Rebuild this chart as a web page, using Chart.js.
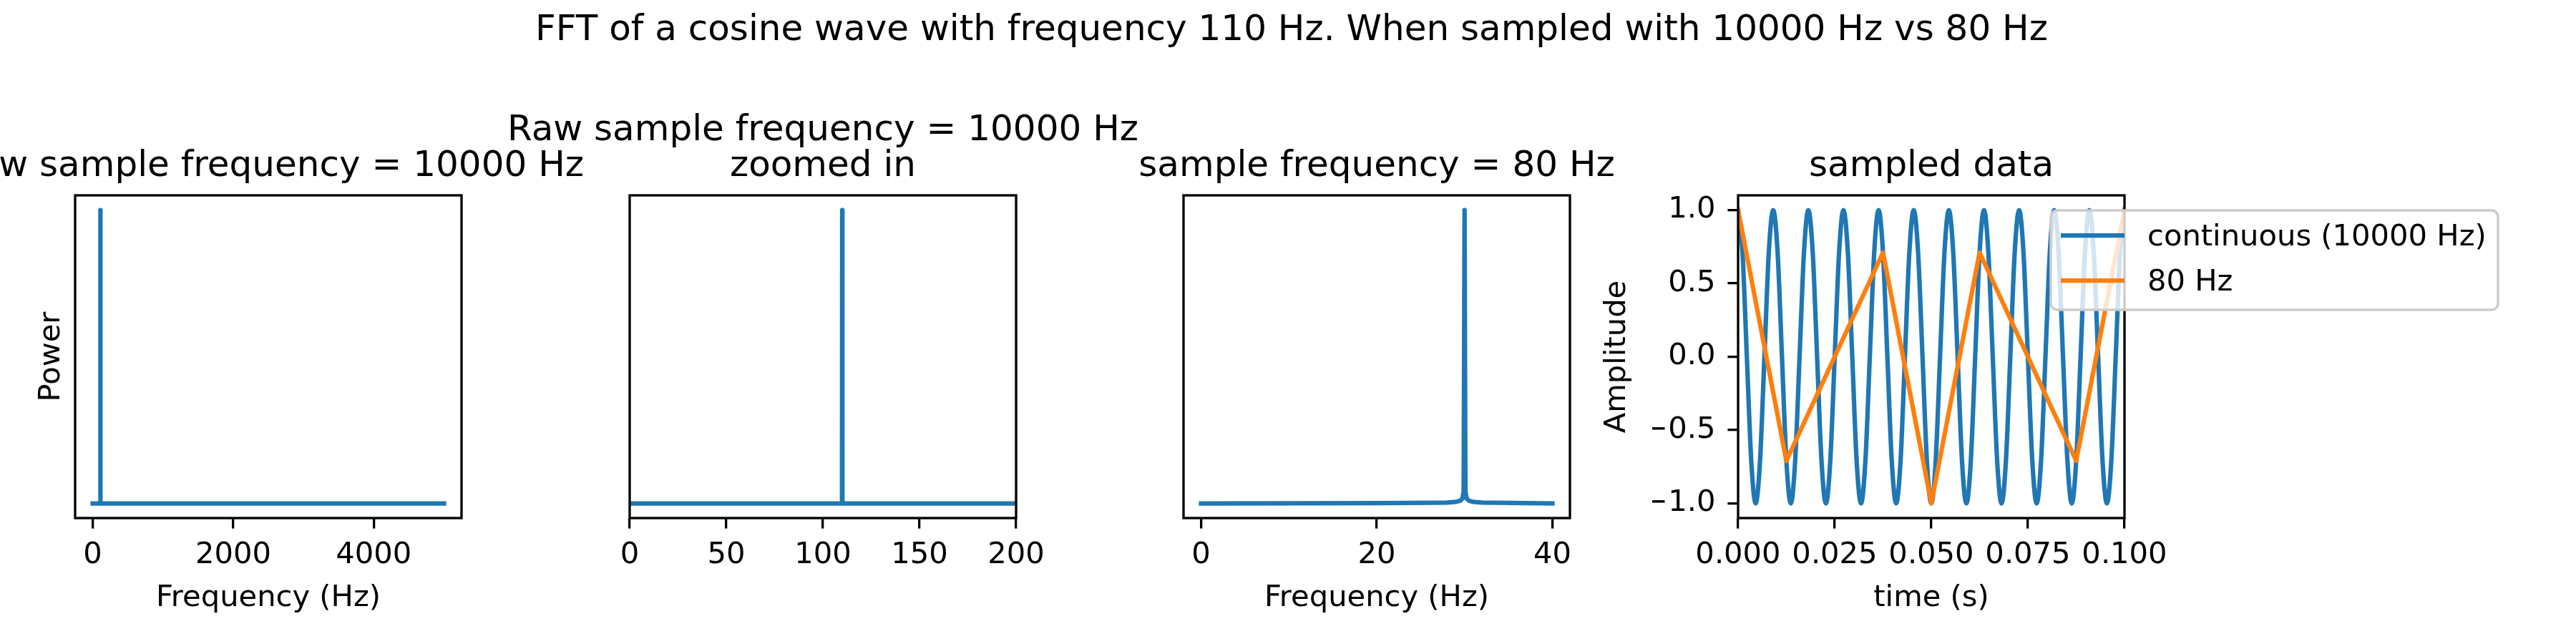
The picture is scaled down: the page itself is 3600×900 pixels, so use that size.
<!DOCTYPE html>
<html>
<head>
<meta charset="utf-8">
<script src="https://cdn.jsdelivr.net/npm/chart.js@4.4.0/dist/chart.umd.min.js"></script>
<style>
  html, body { margin: 0; padding: 0; background: #fff; }
  #fig { position: relative; width: 3600px; height: 900px; overflow: hidden; background: #fff; }
  #fig canvas { position: absolute; left: 0; top: 0; }
</style>
</head>
<body>
<div id="fig">
  <canvas id="raw" width="3600" height="900"></canvas>
  <canvas id="zoom" width="3600" height="900"></canvas>
  <canvas id="alias" width="3600" height="900"></canvas>
  <canvas id="wave" width="3600" height="900"></canvas>
</div>
<script>
// FFT of the 10000 Hz recording (power scaled to the peak)
const rawFreq = [0, 109.9, 110, 110.1, 5000];
const rawPower = [0, 0, 1, 0, 0];
const rawTicks = [0, 2000, 4000];
const rawTickLabels = ['0', '2000', '4000'];
const zoomTicks = [0, 50, 100, 150, 200];
const zoomTickLabels = ['0', '50', '100', '150', '200'];

// FFT of the 80 Hz recording: 110 Hz shows up at 30 Hz
const aliasFreq = [0, 20, 26, 28, 29, 29.5, 29.75, 29.9, 30, 30.1, 30.25, 30.5, 31, 32, 34, 40];
const aliasPower = [0, 0.001, 0.002, 0.003, 0.005, 0.009, 0.016, 0.04, 1, 0.04, 0.016, 0.009, 0.005, 0.003, 0.002, 0];
const aliasTicks = [0, 20, 40];
const aliasTickLabels = ['0', '20', '40'];

// time domain
const waveTime = [
  0, 0.00114, 0.00227, 0.00341, 0.00455, 0.00568, 0.00682, 0.00795,
  0.00909, 0.01023, 0.01136, 0.0125, 0.01364, 0.01477, 0.01591, 0.01705,
  0.01818, 0.01932, 0.02045, 0.02159, 0.02273, 0.02386, 0.025, 0.02614,
  0.02727, 0.02841, 0.02955, 0.03068, 0.03182, 0.03295, 0.03409, 0.03523,
  0.03636, 0.0375, 0.03864, 0.03977, 0.04091, 0.04205, 0.04318, 0.04432,
  0.04545, 0.04659, 0.04773, 0.04886, 0.05, 0.05114, 0.05227, 0.05341,
  0.05455, 0.05568, 0.05682, 0.05795, 0.05909, 0.06023, 0.06136, 0.0625,
  0.06364, 0.06477, 0.06591, 0.06705, 0.06818, 0.06932, 0.07045, 0.07159,
  0.07273, 0.07386, 0.075, 0.07614, 0.07727, 0.07841, 0.07955, 0.08068,
  0.08182, 0.08295, 0.08409, 0.08523, 0.08636, 0.0875, 0.08864, 0.08977,
  0.09091, 0.09205, 0.09318, 0.09432, 0.09545, 0.09659, 0.09773, 0.09886,
  0.1
];
const waveAmp = [
  1, 0.71, 0, -0.71, -1, -0.71, 0, 0.71,
  1, 0.71, 0, -0.71, -1, -0.71, 0, 0.71,
  1, 0.71, 0, -0.71, -1, -0.71, 0, 0.71,
  1, 0.71, 0, -0.71, -1, -0.71, 0, 0.71,
  1, 0.71, 0, -0.71, -1, -0.71, 0, 0.71,
  1, 0.71, 0, -0.71, -1, -0.71, 0, 0.71,
  1, 0.71, 0, -0.71, -1, -0.71, 0, 0.71,
  1, 0.71, 0, -0.71, -1, -0.71, 0, 0.71,
  1, 0.71, 0, -0.71, -1, -0.71, 0, 0.71,
  1, 0.71, 0, -0.71, -1, -0.71, 0, 0.71,
  1, 0.71, 0, -0.71, -1, -0.71, 0, 0.71,
  1
];
const sampleTime = [0, 0.0125, 0.025, 0.0375, 0.05, 0.0625, 0.075, 0.0875, 0.1];
const sampleAmp = [1, -0.71, 0, 0.71, -1, 0.71, 0, -0.71, 1];
const timeTicks = [0, 0.025, 0.05, 0.075, 0.1];
const timeTickLabels = ['0.000', '0.025', '0.050', '0.075', '0.100'];
const ampTicks = [-1, -0.5, 0, 0.5, 1];
const ampTickLabels = ['\u22121.0', '\u22120.5', '0.0', '0.5', '1.0'];

const FONT = '"DejaVu Sans", sans-serif';
const BLUE = '#1f77b4';
const ORANGE = '#ff7f0e';
const TICK = 41.67;
const BIG = 50;

const xy = (xs, ys) => xs.map((x, i) => ({ x, y: ys[i] }));

function axisTicks(values, labels, side) {
  return {
    afterBuildTicks: s => { s.ticks = values.map(v => ({ value: v })); },
    grid: { display: true, drawOnChartArea: false, drawTicks: true, tickLength: 14.6,
            tickWidth: 3.3, lineWidth: 3.3, tickColor: '#000', color: '#000' },
    ticks: { display: true, padding: side === 'x' ? 13 : 17, color: '#000', autoSkip: false, maxRotation: 0,
             font: { family: FONT, size: TICK }, callback: (v, i) => labels[i] }
  };
}

function makeChart(id, left, cfg) {
  const xs = Object.assign({
    type: 'linear', min: cfg.xMin, max: cfg.xMax,
    border: { display: false },
    afterFit: s => { s.height = 80; s.paddingLeft = 0; s.paddingRight = 0; }
  }, axisTicks(cfg.xTicks, cfg.xLabels, 'x'));

  let ys = {
    type: 'linear', min: cfg.yMin, max: cfg.yMax,
    border: { display: false },
    grid: { display: false },
    ticks: { display: false },
    afterFit: s => { s.width = 120; s.paddingTop = 0; s.paddingBottom = 0; }
  };
  if (cfg.yTicks) Object.assign(ys, axisTicks(cfg.yTicks, cfg.yLabels, 'y'));

  return new Chart(document.getElementById(id), {
    type: 'line',
    data: { datasets: cfg.datasets },
    options: {
      responsive: false,
      animation: false,
      devicePixelRatio: 1,
      events: [],
      layout: { padding: { left: left - 120, right: 3600 - left - 540, top: 273, bottom: 900 - 724 - 80 } },
      scales: { x: xs, y: ys },
      plugins: { legend: { display: false }, tooltip: { enabled: false }, decor: cfg.decor }
    },
    plugins: [decor]
  });
}

function roundBox(ctx, x, y, w, h, r) {
  ctx.beginPath();
  ctx.moveTo(x + r, y);
  ctx.lineTo(x + w - r, y);
  ctx.arcTo(x + w, y, x + w, y + r, r);
  ctx.lineTo(x + w, y + h - r);
  ctx.arcTo(x + w, y + h, x + w - r, y + h, r);
  ctx.lineTo(x + r, y + h);
  ctx.arcTo(x, y + h, x, y + h - r, r);
  ctx.lineTo(x, y + r);
  ctx.arcTo(x, y, x + r, y, r);
  ctx.closePath();
}

// axes frame, titles, labels and legend in the matplotlib look
const decor = {
  id: 'decor',
  afterDraw(chart, args, o) {
    const { ctx, chartArea: a } = chart;
    const cx = (a.left + a.right) / 2;
    ctx.save();
    ctx.strokeStyle = '#000';
    ctx.lineWidth = 3.33;
    ctx.strokeRect(a.left, a.top, a.right - a.left, a.bottom - a.top);

    if (o.legend) {
      const lx = a.right - 103, ly = a.top + 21, lw = 625, lh = 139;
      roundBox(ctx, lx, ly, lw, lh, 9);
      ctx.fillStyle = 'rgba(255,255,255,0.8)';
      ctx.fill();
      ctx.strokeStyle = '#cccccc';
      ctx.lineWidth = 3.5;
      ctx.stroke();
      ctx.font = `${TICK}px ${FONT}`;
      ctx.textAlign = 'left';
      ctx.textBaseline = 'alphabetic';
      chart.data.datasets.forEach((ds, i) => {
        const rowY = ly + 35 + i * 63;
        ctx.strokeStyle = ds.borderColor;
        ctx.lineWidth = 6.25;
        ctx.lineCap = 'butt';
        ctx.beginPath();
        ctx.moveTo(lx + 14, rowY);
        ctx.lineTo(lx + 103, rowY);
        ctx.stroke();
        ctx.fillStyle = '#000';
        ctx.fillText(ds.label, lx + 135, rowY + 14);
      });
    }

    ctx.fillStyle = '#000';
    ctx.textAlign = 'center';
    ctx.textBaseline = 'alphabetic';
    ctx.font = `${BIG}px ${FONT}`;
    o.title.forEach((line, i, arr) => ctx.fillText(line, cx, a.top - 27 - (arr.length - 1 - i) * 50));
    if (o.suptitle) ctx.fillText(o.suptitle, 1805, 56);

    ctx.font = `${TICK}px ${FONT}`;
    if (o.xLabel) ctx.fillText(o.xLabel, cx, 847);
    if (o.yLabel) {
      ctx.translate(a.left + o.yLabelDx, (a.top + a.bottom) / 2);
      ctx.rotate(-Math.PI / 2);
      ctx.fillText(o.yLabel, 0, 0);
    }
    ctx.restore();
  }
};

const lineStyle = color => ({
  borderColor: color, backgroundColor: color, borderWidth: 6.25,
  pointRadius: 0, fill: false, borderJoinStyle: 'round', borderCapStyle: 'square'
});

makeChart('raw', 105, {
  xMin: -250, xMax: 5250, xTicks: rawTicks, xLabels: rawTickLabels,
  yMin: -0.05, yMax: 1.05,
  datasets: [Object.assign({ label: 'power', data: xy(rawFreq, rawPower) }, lineStyle(BLUE))],
  decor: { title: ['Raw sample frequency = 10000 Hz'], xLabel: 'Frequency (Hz)', yLabel: 'Power', yLabelDx: -22,
           suptitle: 'FFT of a cosine wave with frequency 110 Hz. When sampled with 10000 Hz vs 80 Hz' }
});

makeChart('zoom', 880, {
  xMin: 0, xMax: 200, xTicks: zoomTicks, xLabels: zoomTickLabels,
  yMin: -0.05, yMax: 1.05,
  datasets: [Object.assign({ label: 'power', data: xy(rawFreq, rawPower) }, lineStyle(BLUE))],
  decor: { title: ['Raw sample frequency = 10000 Hz', 'zoomed in'] }
});

makeChart('alias', 1654, {
  xMin: -2, xMax: 42, xTicks: aliasTicks, xLabels: aliasTickLabels,
  yMin: -0.05, yMax: 1.05,
  datasets: [Object.assign({ label: 'power', data: xy(aliasFreq, aliasPower) }, lineStyle(BLUE))],
  decor: { title: ['sample frequency = 80 Hz'], xLabel: 'Frequency (Hz)' }
});

makeChart('wave', 2429, {
  xMin: 0, xMax: 0.1, xTicks: timeTicks, xLabels: timeTickLabels,
  yMin: -1.1, yMax: 1.1, yTicks: ampTicks, yLabels: ampTickLabels,
  datasets: [
    Object.assign({ label: 'continuous (10000 Hz)', data: xy(waveTime, waveAmp), order: 2,
                    cubicInterpolationMode: 'monotone', tension: 0.4 }, lineStyle(BLUE)),
    Object.assign({ label: '80 Hz', data: xy(sampleTime, sampleAmp), order: 1 }, lineStyle(ORANGE))
  ],
  decor: { title: ['sampled data'], xLabel: 'time (s)', yLabel: 'Amplitude', yLabelDx: -158, legend: true }
});
</script>
</body>
</html>
